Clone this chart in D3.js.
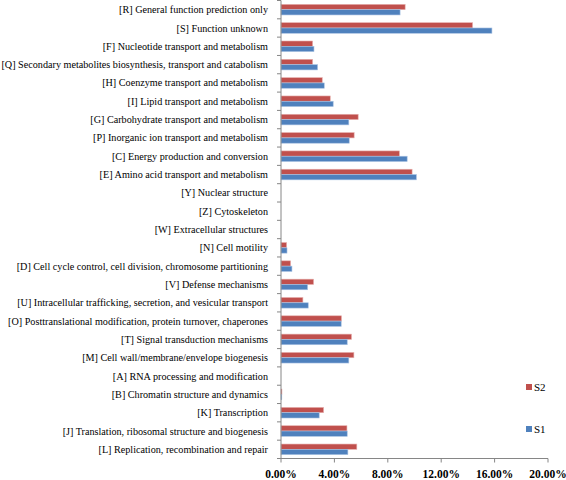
<!DOCTYPE html>
<html><head><meta charset="utf-8">
<script src="https://cdn.jsdelivr.net/npm/d3@7"></script>
<style>
html,body{margin:0;padding:0;background:#fff;}
svg{display:block;}
</style></head>
<body><svg id="c" width="566" height="480"></svg>
<script>
const categories = [
"[R] General function prediction only",
"[S] Function unknown",
"[F] Nucleotide transport and metabolism",
"[Q] Secondary metabolites biosynthesis, transport and catabolism",
"[H] Coenzyme transport and metabolism",
"[I] Lipid transport and metabolism",
"[G] Carbohydrate transport and metabolism",
"[P] Inorganic ion transport and metabolism",
"[C] Energy production and conversion",
"[E] Amino acid transport and metabolism",
"[Y] Nuclear structure",
"[Z] Cytoskeleton",
"[W] Extracellular structures",
"[N] Cell motility",
"[D] Cell cycle control, cell division, chromosome partitioning",
"[V] Defense mechanisms",
"[U] Intracellular trafficking, secretion, and vesicular transport",
"[O] Posttranslational modification, protein turnover, chaperones",
"[T] Signal transduction mechanisms",
"[M] Cell wall/membrane/envelope biogenesis",
"[A] RNA processing and modification",
"[B] Chromatin structure and dynamics",
"[K] Transcription",
"[J] Translation, ribosomal structure and biogenesis",
"[L] Replication, recombination and repair"
];
const s2 = [9.30,14.35,2.37,2.37,3.09,3.69,5.78,5.48,8.87,9.82,0,0,0,0.42,0.72,2.44,1.64,4.53,5.28,5.46,0,0.07,3.19,4.94,5.68];
const s1 = [8.92,15.80,2.47,2.74,3.24,3.91,5.08,5.11,9.45,10.14,0,0,0,0.45,0.82,1.99,2.04,4.51,4.96,5.08,0,0.06,2.86,4.96,5.01];
const seriesNames = ["S2","S1"];
const xTicks = [0,4,8,12,16,20];

const colors = {S2:"#C0504D", S1:"#4F81BD"};
const svg = d3.select("#c");
const x0 = 281, x1 = 548, yTop = 0.5, yBot = 458.5;
const x = d3.scaleLinear().domain([0,20]).range([x0,x1]);
const y = d3.scaleBand().domain(categories).range([yTop,yBot]).padding(0);
const groupH = 10.6;
const ySub = d3.scaleBand().domain(seriesNames).range([0,groupH]).padding(0);
const off = (y.bandwidth()-groupH)/2;
const serif = "'Liberation Serif','Times New Roman',Times,serif";

const series = {S2:s2, S1:s1};
const g = svg.append("g");
seriesNames.forEach(name => {
  g.selectAll("rect."+name).data(categories).enter().append("rect")
    .attr("x", x(0))
    .attr("y", c => y(c)+off+ySub(name))
    .attr("width", (c,i) => Math.max(0, x(series[name][i]) - x(0)))
    .attr("height", ySub.bandwidth())
    .attr("fill", colors[name])
    .attr("stroke", name==="S2" ? "#E6B0AE" : "#A9C2E2")
    .attr("stroke-width", 0.6);
});

// y axis
const yAxis = svg.append("g").attr("transform",`translate(${x0},0)`);
yAxis.append("line").attr("x1",0).attr("x2",0).attr("y1",yTop).attr("y2",yBot).attr("stroke","#868686");
const bounds = categories.map(c=>y(c)).concat([yBot]);
yAxis.selectAll("line.t").data(bounds).enter().append("line")
  .attr("x1",-4).attr("x2",0).attr("y1",d=>d).attr("y2",d=>d).attr("stroke","#868686");
const labels = yAxis.selectAll("text").data(categories).enter().append("text")
  .attr("x",-13).attr("y",c=>y(c)+y.bandwidth()/2)
  .attr("dy","0.35em").attr("text-anchor","end")
  .style("font-family",serif)
  .style("font-size","10.5px").attr("fill","#000").text(c=>c);
// fit longest label into available width (reference: starts at left edge)
let maxW = 0;
labels.each(function(){ maxW = Math.max(maxW, this.getComputedTextLength()); });
const avail = x0 - 13 - 1;
if (maxW > avail) labels.style("font-size", (10.5*avail/maxW).toFixed(2)+"px");

// x axis
const xAxis = svg.append("g").attr("transform",`translate(0,${yBot})`);
xAxis.append("line").attr("x1",x0).attr("x2",x1).attr("y1",0).attr("y2",0).attr("stroke","#868686");
xAxis.selectAll("line.t").data(xTicks).enter().append("line")
  .attr("x1",d=>x(d)).attr("x2",d=>x(d)).attr("y1",0).attr("y2",4).attr("stroke","#868686");
xAxis.selectAll("text").data(xTicks).enter().append("text")
  .attr("x",d=>x(d)).attr("y",19).attr("text-anchor","middle")
  .style("font-family",serif)
  .style("font-size","11.5px").style("font-weight","bold").text(d=>d.toFixed(2)+"%");

// legend
const leg = svg.append("g");
const legY = {S2:387, S1:429};
seriesNames.forEach(name=>{
  leg.append("rect").attr("x",526).attr("y",legY[name]-3).attr("width",6).attr("height",6).attr("fill",colors[name]);
  leg.append("text").attr("x",534).attr("y",legY[name]).attr("dy","0.35em")
    .style("font-family",serif).style("font-size","11px").text(name);
});
</script></body></html>
